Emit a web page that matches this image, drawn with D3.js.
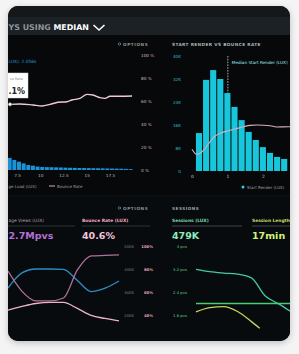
<!DOCTYPE html>
<html><head><meta charset="utf-8">
<script src="https://cdn.jsdelivr.net/npm/d3@7"></script>
<style>html,body{margin:0;padding:0;background:#f4f4f4;}svg{display:block}</style>
</head><body><svg id="c" width="299" height="354"></svg>
<script>
// ---------- DATA ----------
// Top-left: page load histogram (seconds bins, counts in K) + bounce rate line (%)
const pageLoadBins   = [6.5,7,7.5,8,8.5,9,9.5,10,10.5,11,11.5,12,12.5,13,13.5,14,14.5,15,15.5,16,16.5,17,17.5,18,18.5,19,19.5];
const pageLoadCounts = [4.2,3.5,2.9,2.3,1.75,1.5,1.2,1.05,1.0,0.97,0.92,0.88,0.82,0.78,0.74,0.7,0.68,0.66,0.63,0.6,0.57,0.54,0.51,0.48,0.44,0.38,0.3];
const pageLoadTicks  = [7.5,10,12.5,15,17.5];
const tlBounceX      = [6.75,7.82,9.22,10.19,11.05,11.91,12.88,13.41,14.27,15.03,15.67,16.42,16.96,17.5,18.58,19.87];
const tlBounceRate   = [57.1,57.4,56.5,55.7,57.1,58.9,59.4,60.9,62.3,65.8,65.2,62.9,62.3,64.1,64.1,64.3];
const pctTicks       = [0,20,40,60,80,100];

// Top-right: start render histogram (seconds, counts in K) + bounce rate (%)
const startRenderBins   = [0.2,0.4,0.6,0.8,1.0,1.2,1.4,1.6,1.8,2.0,2.2,2.4,2.6];
const startRenderCounts = [13.2,31.7,35.1,32.0,27.1,22.3,17.7,13.6,10.8,8.3,6.3,4.9,4.2];
const trBounceX    = [0,0.13,0.23,0.37,0.51,0.65,0.84,1.02,1.21,1.45,1.64,1.83,2.2,2.38,2.72,2.9];
const trBounceRate = [18.9,14.5,15.4,19.7,25.5,30.4,33.3,35,36.5,38.5,39.7,40,39.4,38.3,38.5,38.5];
const countTicks   = [0,8,16,24,32,40];
const secTicks     = [0,1,2];
const medianStartRender = 1.01;

// Bottom-left: page views / bounce rate over time
const blDays        = [0,1,2,3,4,5,6,7,8];
const blBlueLine    = [317,383,400,400,398,350,302,317,348];   // K
const blMauveLine   = [391,304,261,261,274,396,457,459,461];   // K
const blBounceLine  = [44.3,47.4,50,51,50.9,45.7,39.6,37,34.8];// %
const kTicks        = [200,300,400,500];
const blPctTicks    = [40,60,80,100];

// Bottom-right: sessions
const brDays        = [0,1,2,3,4,5,6,7];
const brTealLine    = [3.19,3.11,3.06,3.02,2.89,2.26,1.98,1.67];
const brGreenLine   = [2.0,2.0,2.0,2.0,2.0,2.0,2.0,2.0];
const brYellowDays  = [0,1,2,3,4,4.6];
const brYellowLine  = [1.71,1.86,1.89,1.72,1.37,1.14];
const pvsTicks      = [1.6,2.4,3.2,4];

// ---------- DRAW ----------
const svg = d3.select("#c");
const FONT = "DejaVu Sans, sans-serif";
const defs = svg.append("defs");
defs.append("clipPath").attr("id","card").append("rect")
  .attr("x",8).attr("y",6).attr("width",282).attr("height",335).attr("rx",10);
const flt = defs.append("filter").attr("id","sh").attr("x","-10%").attr("y","-10%").attr("width","120%").attr("height","120%");
flt.append("feDropShadow").attr("dx",0).attr("dy",2).attr("stdDeviation",3).attr("flood-color","#000").attr("flood-opacity",0.22);

svg.append("rect").attr("width",299).attr("height",354).attr("fill","#f4f4f4");
svg.append("rect").attr("x",8).attr("y",6).attr("width",282).attr("height",335).attr("rx",10)
  .attr("fill","#07090b").attr("filter","url(#sh)");

const g = svg.append("g").attr("clip-path","url(#card)");
g.append("rect").attr("x",0).attr("y",6).attr("width",299).attr("height",11).attr("fill","#14181b");
g.append("rect").attr("x",0).attr("y",17).attr("width",299).attr("height",18).attr("fill","#1c2125");
g.append("rect").attr("x",0).attr("y",35).attr("width",299).attr("height",160).attr("fill","#06080a");
g.append("rect").attr("x",0).attr("y",197).attr("width",299).attr("height",150).attr("fill","#080b0d");

function txt(x,y,s,o){
  o=o||{};
  return g.append("text").attr("x",x).attr("y",y).text(s)
    .attr("font-family",o.font||FONT).attr("font-size",o.size||4.3)
    .attr("font-weight",o.weight||"normal").attr("fill",o.fill||"#aaa")
    .attr("text-anchor",o.anchor||"start").attr("dominant-baseline",o.base||"central")
    .attr("letter-spacing",o.ls||0);
}

// Header (visible part of the cropped title)
const h = g.append("text").attr("x",8.5).attr("y",30)
  .attr("font-family",FONT).attr("font-size",7.9).attr("font-weight","bold");
h.append("tspan").attr("fill","#8d969a").text("YS USING ");
h.append("tspan").attr("fill","#ffffff").text("MEDIAN");
g.append("polyline").attr("points","93.5,25 99,30 104.5,25").attr("fill","none")
  .attr("stroke","#fff").attr("stroke-width",1.6);

// Panel headers
function gear(x,y){ g.append("circle").attr("cx",x).attr("cy",y).attr("r",1.2).attr("fill","none").attr("stroke","#8a9296").attr("stroke-width",0.7); }
gear(119.5,44); txt(123,44,"OPTIONS",{size:4.2,weight:"bold",fill:"#8a9296",ls:0.6});
txt(172,44,"START RENDER VS BOUNCE RATE",{size:4.3,weight:"bold",fill:"#a9b0b4",ls:0.35});
gear(119.5,208); txt(123,208,"OPTIONS",{size:4.2,weight:"bold",fill:"#8a9296",ls:0.6});
txt(172,208,"SESSIONS",{size:4.2,weight:"bold",fill:"#9aa2a6",ls:0.5});

// ----- Top-left panel -----
const xTL = d3.scaleLinear().domain([7.5,17.5]).range([17,110]);
const yTLc = d3.scaleLinear().domain([0,40]).range([170,55]);
const yTLp = d3.scaleLinear().domain([0,100]).range([170,55]);

txt(8.5,61,"LUX): 2.056s",{size:4.4,fill:"#2a9fd6"});

g.append("g").selectAll("rect").data(pageLoadBins).join("rect")
  .attr("x",d=>xTL(d)).attr("width",d=>xTL(d+0.5)-xTL(d)-0.7)
  .attr("y",(d,i)=>yTLc(pageLoadCounts[i])).attr("height",(d,i)=>yTLc(0)-yTLc(pageLoadCounts[i]))
  .attr("fill","#1b93d9");

const tlLine = d3.line().x((d,i)=>xTL(tlBounceX[i])).y(d=>yTLp(d)).curve(d3.curveMonotoneX);
g.append("path").attr("d",tlLine(tlBounceRate)).attr("fill","none").attr("stroke","#efcad5").attr("stroke-width",1.4);

const axTLr = g.append("g").attr("transform","translate(141,0)")
  .call(d3.axisRight(yTLp).tickValues(pctTicks).tickSize(0).tickPadding(0).tickFormat(d=>d+" %"));
axTLr.select(".domain").remove();
axTLr.selectAll("text").attr("font-family",FONT).attr("font-size",4.2).attr("fill","#d9b8c3");

const axTLb = g.append("g").attr("transform","translate(0,176)")
  .call(d3.axisBottom(xTL).tickValues(pageLoadTicks).tickSize(0).tickPadding(0).tickFormat(d=>d));
axTLb.select(".domain").remove();
axTLb.selectAll("text").attr("font-family",FONT).attr("font-size",4.2).attr("fill","#b8bcbe").attr("dy","0.35em");

// tooltip (visible part)
g.append("rect").attr("x",2).attr("y",73).attr("width",26).attr("height",25).attr("fill","#ffffff").attr("stroke","#d8d8d8").attr("stroke-width",0.5);
txt(10,79,"ce Rate",{size:3.4,fill:"#8a8a8a"});
txt(8.5,91.5,".1%",{size:8,weight:"bold",fill:"#222"});
g.append("circle").attr("cx",xTL(tlBounceX[0])).attr("cy",yTLp(tlBounceRate[0])).attr("r",1.8)
  .attr("fill","#fff").attr("stroke","#555").attr("stroke-width",0.6);

// legend
txt(8.5,186,"ge Load (LUX)",{size:4,fill:"#a0a4a6"});
g.append("line").attr("x1",49).attr("x2",55).attr("y1",186).attr("y2",186).attr("stroke","#e3a5bb").attr("stroke-width",1);
txt(57,186,"Bounce Rate",{size:4,fill:"#a0a4a6"});

// ----- Top-right panel -----
const xTR = d3.scaleLinear().domain([0,2]).range([192,263]);
const yTR = d3.scaleLinear().domain([0,40]).range([171,56]);
const yTRp = d3.scaleLinear().domain([0,100]).range([171,56]);

g.append("line").attr("x1",xTR(medianStartRender)).attr("x2",xTR(medianStartRender)).attr("y1",56).attr("y2",171)
  .attr("stroke","#e8f6f8").attr("stroke-width",0.7).attr("stroke-dasharray","1.6,1.2");
txt(xTR(medianStartRender)+4,62,"Median Start Render (LUX)",{size:4.2,fill:"#a6eef2"});

const bw = xTR(0.2)-xTR(0);
g.append("g").selectAll("rect").data(startRenderBins).join("rect")
  .attr("x",d=>xTR(d)-bw/2+0.4).attr("width",bw-1)
  .attr("y",(d,i)=>yTR(startRenderCounts[i])).attr("height",(d,i)=>yTR(0)-yTR(startRenderCounts[i]))
  .attr("fill","#17c6db");

const trLine = d3.line().x((d,i)=>xTR(trBounceX[i])).y(d=>yTRp(d)).curve(d3.curveMonotoneX);
g.append("path").attr("d",trLine(trBounceRate)).attr("fill","none").attr("stroke","#d9aebd").attr("stroke-width",1.1);

const axTRl = g.append("g").attr("transform","translate(181,0)")
  .call(d3.axisLeft(yTR).tickValues(countTicks).tickSize(0).tickPadding(0).tickFormat(d=>d?d+"K":"0"));
axTRl.select(".domain").remove();
axTRl.selectAll("text").attr("font-family",FONT).attr("font-size",4.2).attr("fill","#2fbfd0");

const axTRb = g.append("g").attr("transform","translate(0,176)")
  .call(d3.axisBottom(xTR).tickValues(secTicks).tickSize(0).tickPadding(0).tickFormat(d=>d));
axTRb.select(".domain").remove();
axTRb.selectAll("text").attr("font-family",FONT).attr("font-size",4.4).attr("fill","#c8cccd").attr("dy","0.35em");

g.append("circle").attr("cx",243).attr("cy",187).attr("r",1.5).attr("fill","#2cd0e2");
txt(247,187,"Start Render (LUX)",{size:4,fill:"#a0a4a6"});

// ----- Bottom-left panel -----
txt(8.5,220,"age Views (LUX)",{size:4.4,fill:"#b99ab5"});
txt(82,220,"Bounce Rate (LUX)",{size:4.4,weight:"bold",fill:"#eeaac6"});
g.append("line").attr("x1",0).attr("x2",75).attr("y1",226).attr("y2",226).attr("stroke","#3b4245").attr("stroke-width",0.7);
g.append("line").attr("x1",82).attr("x2",150).attr("y1",226).attr("y2",226).attr("stroke","#3b4245").attr("stroke-width",0.7);
txt(8.5,238.5,"2.7Mpvs",{size:9.5,weight:"bold",fill:"#b56fd6",base:"alphabetic"});
txt(82,238.5,"40.6%",{size:9.5,weight:"bold",fill:"#f3c3dc",base:"alphabetic"});

const xBL = d3.scaleLinear().domain([0,8]).range([8,119]);
const yBLk = d3.scaleLinear().domain([200,500]).range([315,246]);
const yBLp = d3.scaleLinear().domain([40,100]).range([315,246]);
const lineBLk = d3.line().x((d,i)=>xBL(blDays[i])).y(d=>yBLk(d)).curve(d3.curveMonotoneX);
const lineBLp = d3.line().x((d,i)=>xBL(blDays[i])).y(d=>yBLp(d)).curve(d3.curveMonotoneX);
g.append("path").attr("d",lineBLk(blBlueLine)).attr("fill","none").attr("stroke","#2a8ec4").attr("stroke-width",1.3);
g.append("path").attr("d",lineBLk(blMauveLine)).attr("fill","none").attr("stroke","#b07099").attr("stroke-width",1.3);
g.append("path").attr("d",lineBLp(blBounceLine)).attr("fill","none").attr("stroke","#ecb5c5").attr("stroke-width",1.3);

const axBLk = g.append("g").attr("transform","translate(134,0)")
  .call(d3.axisLeft(yBLk).tickValues(kTicks).tickSize(0).tickPadding(0).tickFormat(d=>d+"K"));
axBLk.select(".domain").remove();
axBLk.selectAll("text").attr("font-family",FONT).attr("font-size",3.8).attr("fill","#7c7f82");
const axBLp = g.append("g").attr("transform","translate(153,0)")
  .call(d3.axisLeft(yBLp).tickValues(blPctTicks).tickSize(0).tickPadding(0).tickFormat(d=>d+"%"));
axBLp.select(".domain").remove();
axBLp.selectAll("text").attr("font-family",FONT).attr("font-size",3.8).attr("font-weight","bold").attr("fill","#e7a3b6");

// ----- Bottom-right panel -----
txt(172,220,"Sessions (LUX)",{size:4.4,weight:"bold",fill:"#7fd6a6"});
txt(252,220,"Session Length",{size:4.4,weight:"bold",fill:"#c5df6a"});
g.append("line").attr("x1",172).attr("x2",242).attr("y1",226).attr("y2",226).attr("stroke","#5a6063").attr("stroke-width",0.7);
g.append("line").attr("x1",252).attr("x2",299).attr("y1",226).attr("y2",226).attr("stroke","#5a6063").attr("stroke-width",0.7);
txt(172,238.5,"479K",{size:9.5,weight:"bold",fill:"#8fe9bd",base:"alphabetic"});
txt(252,238.5,"17min",{size:9.5,weight:"bold",fill:"#d6f27a",base:"alphabetic"});

const xBR = d3.scaleLinear().domain([0,7]).range([196,293]);
const yBR = d3.scaleLinear().domain([1.6,4]).range([315,246]);
const lineBR = d3.line().x((d,i)=>xBR(brDays[i])).y(d=>yBR(d)).curve(d3.curveMonotoneX);
const lineBRy = d3.line().x((d,i)=>xBR(brYellowDays[i])).y(d=>yBR(d)).curve(d3.curveMonotoneX);
g.append("path").attr("d",lineBR(brGreenLine)).attr("fill","none").attr("stroke","#46cf6e").attr("stroke-width",1.3);
g.append("path").attr("d",lineBR(brTealLine)).attr("fill","none").attr("stroke","#45c9a5").attr("stroke-width",1.3);
g.append("path").attr("d",lineBRy(brYellowLine)).attr("fill","none").attr("stroke","#c6d45a").attr("stroke-width",1.3);

const axBR = g.append("g").attr("transform","translate(187,0)")
  .call(d3.axisLeft(yBR).tickValues(pvsTicks).tickSize(0).tickPadding(0).tickFormat(d=>d+" pvs"));
axBR.select(".domain").remove();
axBR.selectAll("text").attr("font-family",FONT).attr("font-size",3.8).attr("fill","#62cf86");
</script></body></html>
